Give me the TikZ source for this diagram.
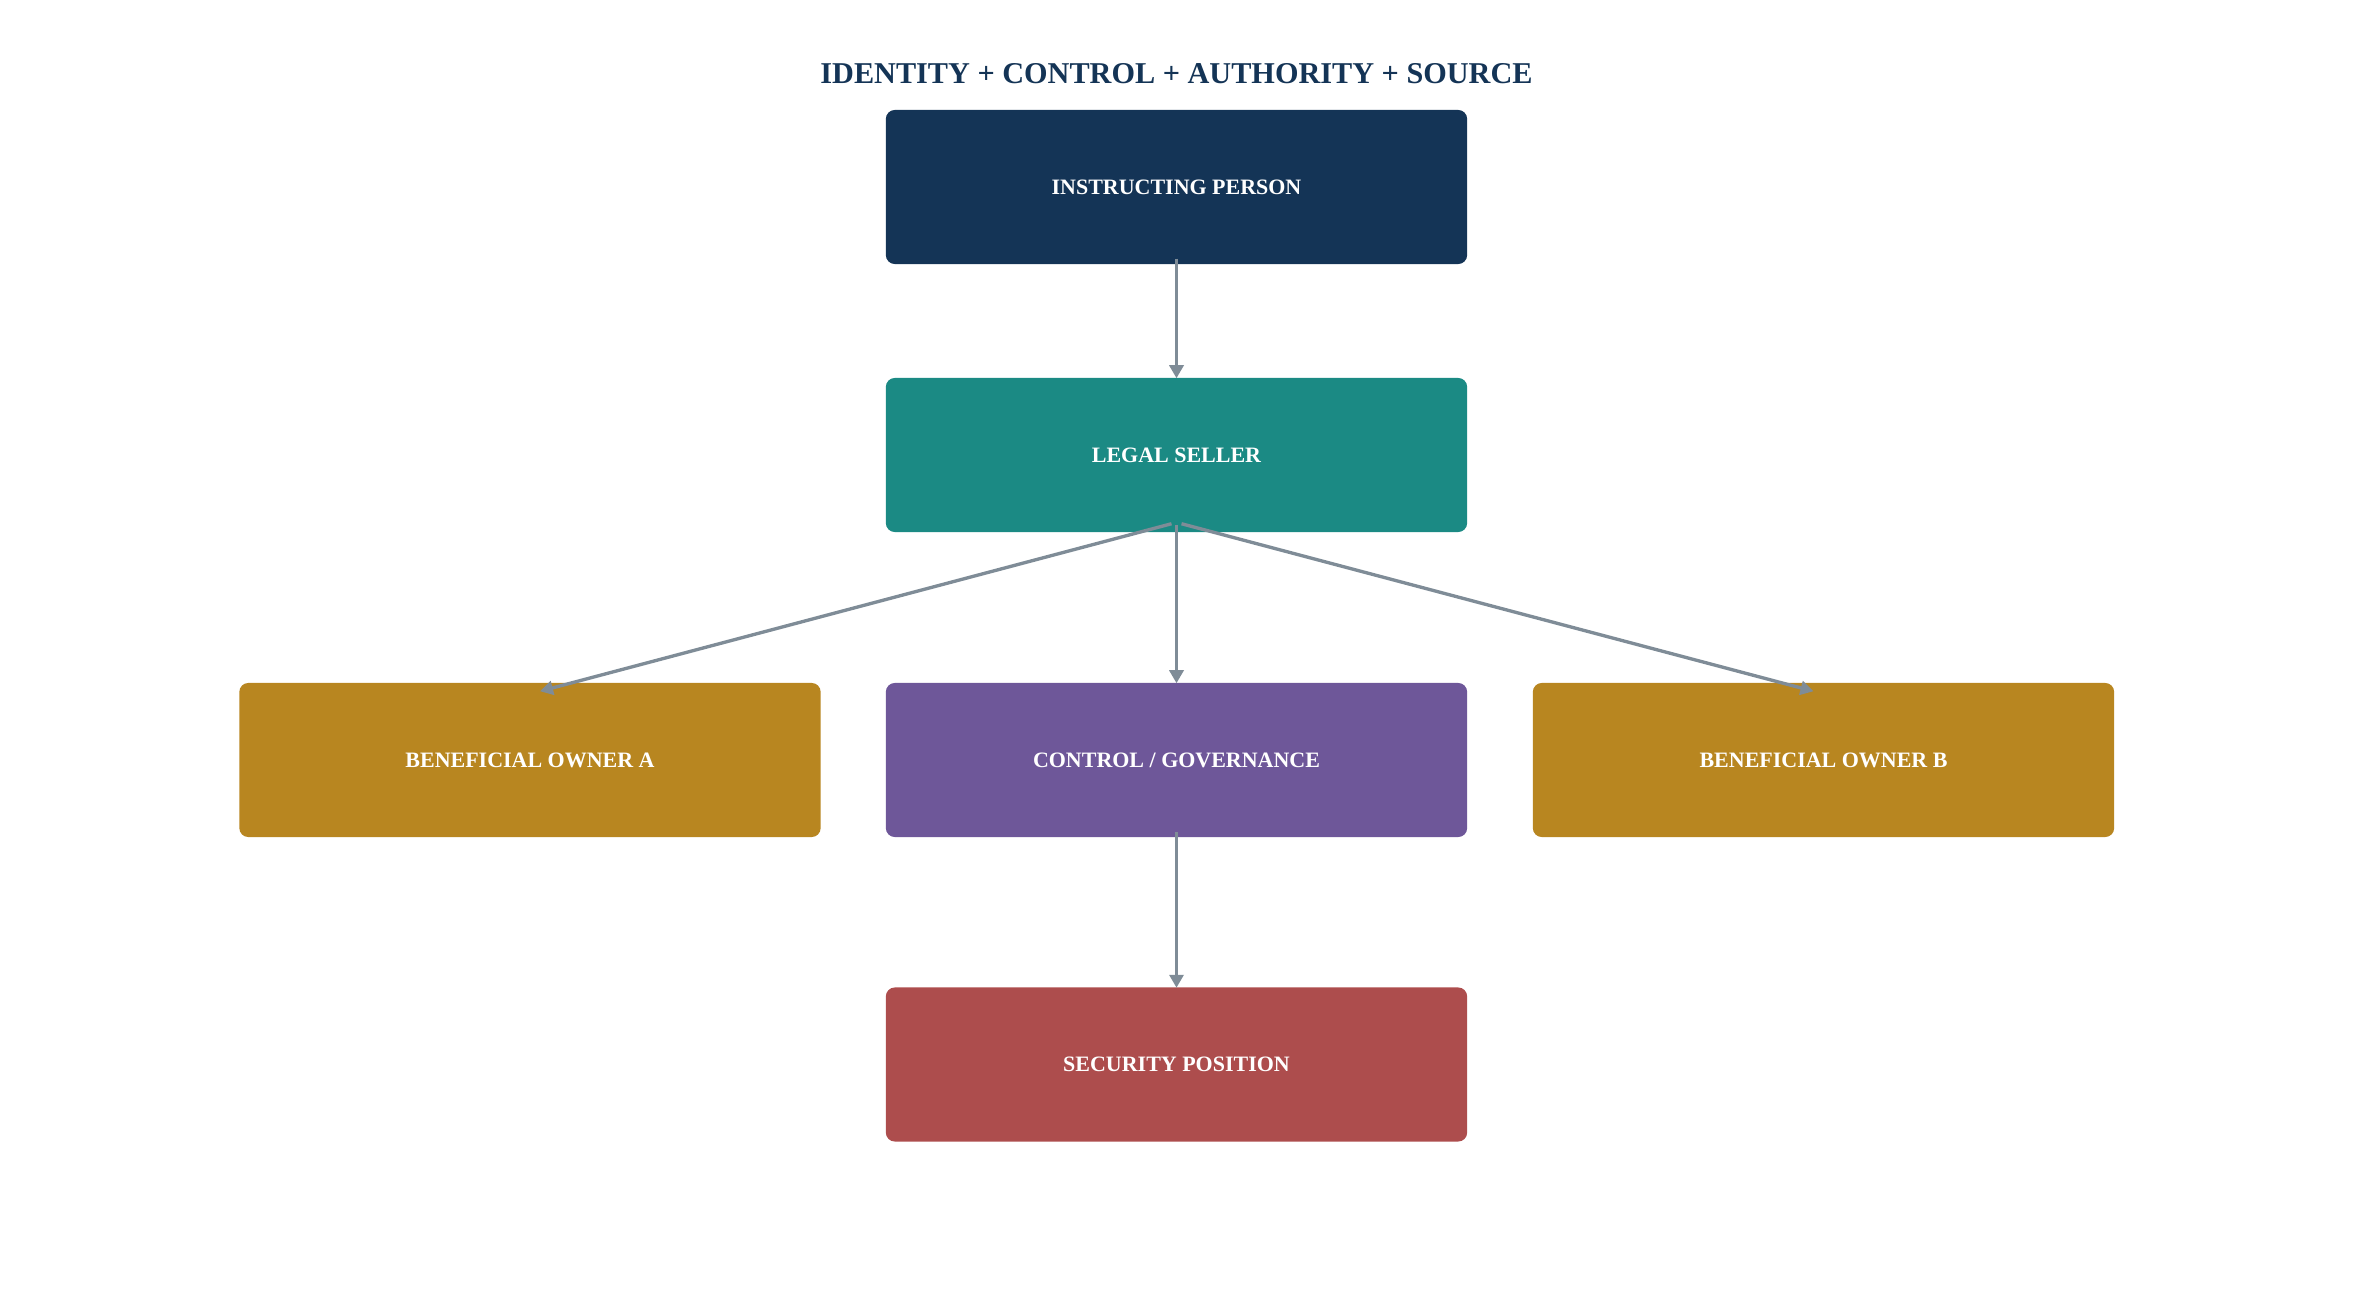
\documentclass[tikz,border=0pt]{standalone}
\usepackage{fontspec}
\setmainfont{Liberation Serif}
\usetikzlibrary{arrows.meta}
\definecolor{navy}{HTML}{143456}
\definecolor{tealbox}{HTML}{1B8A84}
\definecolor{goldbox}{HTML}{B88620}
\definecolor{purplebox}{HTML}{6E5799}
\definecolor{redbox}{HTML}{AD4D4D}
\definecolor{linkgray}{HTML}{7F8C97}
\tikzset{
    box/.style={rounded corners=0.09cm, minimum width=5.81cm, minimum height=1.54cm, inner sep=0pt,
        text=white, font=\fontsize{6.25}{7.5}\selectfont\bfseries},
    link/.style={draw=linkgray, line width=0.95pt, -{Triangle[length=0.13cm,width=0.14cm]}}
}

\begin{document}
\begin{tikzpicture}[x=0.01cm, y=-0.01cm]
        \useasboundingbox (0,0) rectangle (2354,1297);
        \node[text=navy, font=\fontsize{8.6}{10}\selectfont\bfseries] (title) at (1176.5,74) {IDENTITY + CONTROL + AUTHORITY + SOURCE};
        \node[box, fill=navy] (person) at (1176.5,187) {INSTRUCTING PERSON};
        \node[box, fill=tealbox] (seller) at (1176.5,455) {LEGAL SELLER};
        \node[box, fill=goldbox] (ownerA) at (530,760) {BENEFICIAL OWNER A};
        \node[box, fill=purplebox] (control) at (1176.5,760) {CONTROL / GOVERNANCE};
        \node[box, fill=goldbox] (ownerB) at (1823.5,760) {BENEFICIAL OWNER B};
        \node[box, fill=redbox] (security) at (1176.5,1064.5) {SECURITY POSITION};
        \draw[link] ([yshift=0.06cm]person.south) -- ([yshift=-0.01cm]seller.north);
        \draw[link] ([yshift=0.08cm]seller.south) -- ([yshift=-0.01cm]control.north);
        \draw[link] ([xshift=-0.05cm,yshift=0.09cm]seller.south) -- ([xshift=0.1cm,yshift=-0.09cm]ownerA.north);
        \draw[link] ([xshift=0.05cm,yshift=0.09cm]seller.south) -- ([xshift=-0.1cm,yshift=-0.09cm]ownerB.north);
        \draw[link] ([yshift=0.06cm]control.south) -- ([yshift=-0.01cm]security.north);
    \end{tikzpicture}
\end{document}
